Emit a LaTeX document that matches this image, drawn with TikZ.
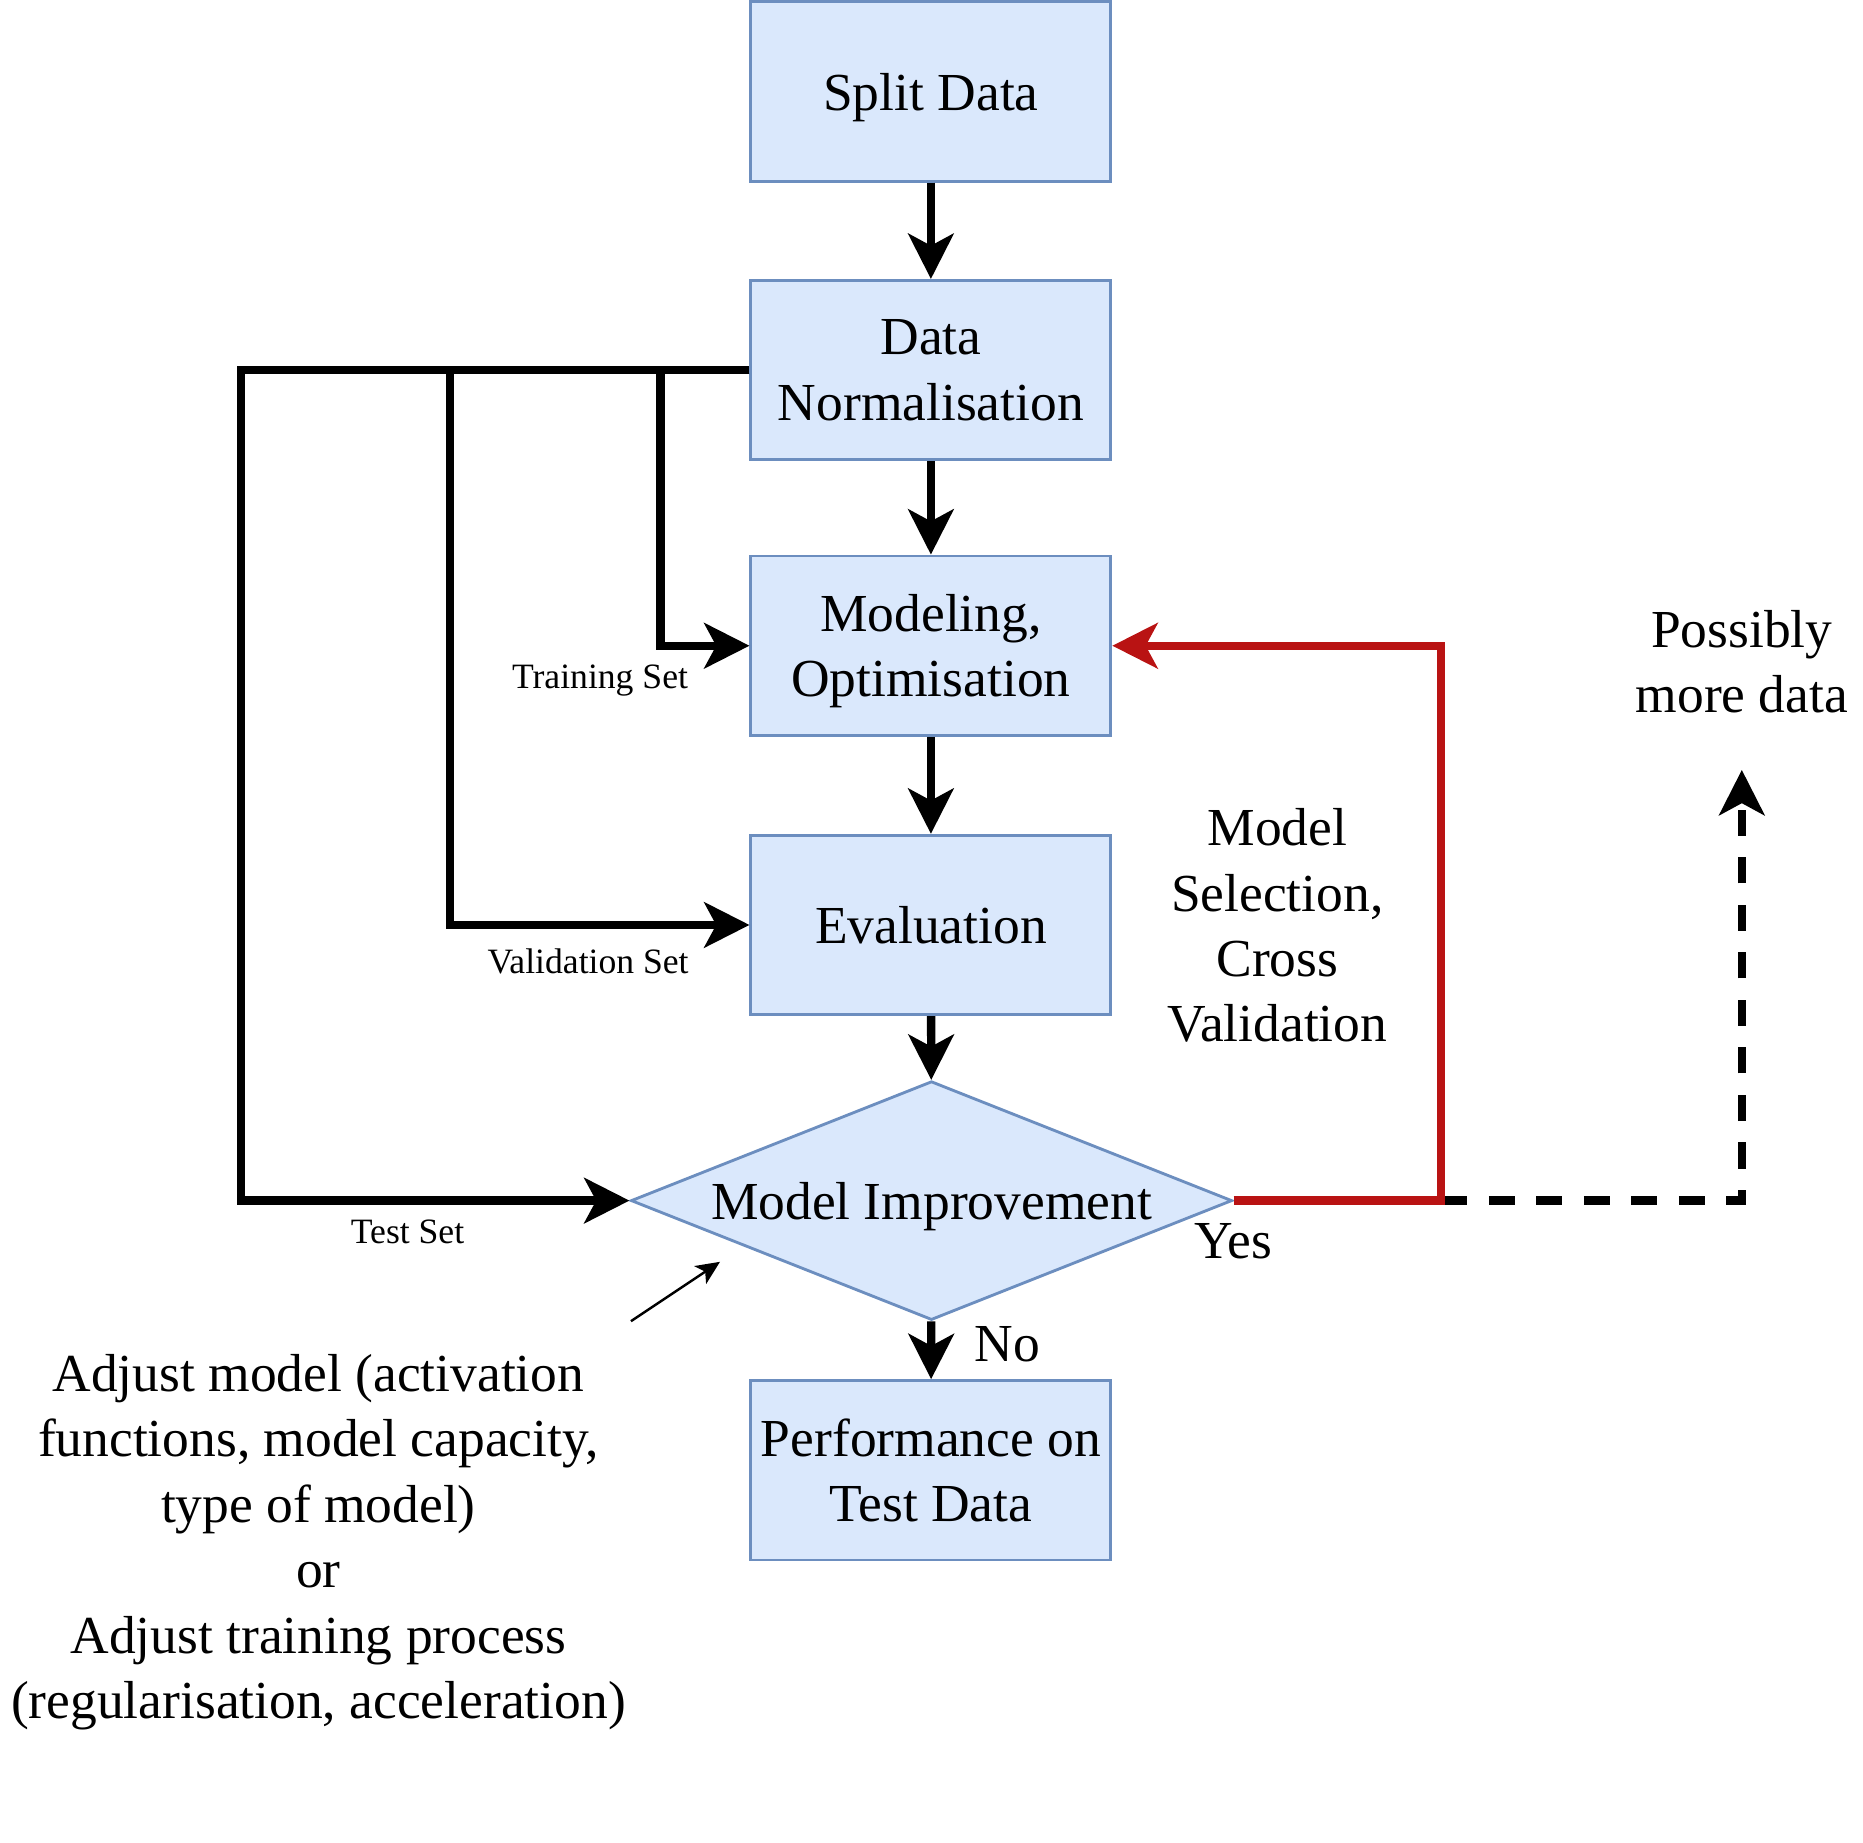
\documentclass[tikz,border=0pt]{standalone}
\usepackage{fontspec}
\setmainfont{Liberation Serif}
\usetikzlibrary{arrows.meta,shapes.geometric}
\definecolor{boxfill}{HTML}{DAE8FC}
\definecolor{boxline}{HTML}{6C8EBF}
\definecolor{loopred}{HTML}{B91313}
\newcommand\bigtext{\fontsize{22.5}{27.5}\selectfont}
\newcommand\smalltext{\fontsize{15}{18}\selectfont}

\begin{document}
\begin{tikzpicture}[x=0.5pt, y=-0.5pt,
        stage/.style={draw=boxline, fill=boxfill, line width=1.2pt, minimum width=151.5pt, minimum height=75.5pt, inner sep=0pt, text depth=0pt, align=center, font=\bigtext},
        decision/.style={diamond, aspect=2.52, draw=boxline, fill=boxfill, line width=1.2pt, minimum width=253pt, minimum height=100.5pt, inner sep=0pt, text depth=0pt, font=\bigtext},
        conn/.style={line width=3.5pt, -{Stealth[length=19pt, width=19pt, inset=5pt]}},
        redloop/.style={conn, draw=loopred, -{Stealth[length=19pt, width=19pt, inset=5pt, loopred]}},
        moredata/.style={conn, dash pattern=on 11pt off 9pt},
        pointer/.style={line width=1pt, -{Stealth[length=10pt, width=9pt, inset=2.5pt]}},
        note/.style={align=center, font=\bigtext, inner sep=0pt},
        setlabel/.style={font=\smalltext, inner sep=0pt}]
    \useasboundingbox (0,0) rectangle (1568,1550.5);

    % main column
    \node[stage] (split) at (783.5, 77)    {Split Data};
    \node[stage] (norm)  at (783.5, 311.5) {Data\\Normalisation};
    \node[stage] (model) at (783.5, 543.5) {Modeling,\\Optimisation};
    \node[stage] (eval)  at (783.5, 778.5) {Evaluation};
    \node[decision] (imp) at (784, 1010.5) {Model Improvement};
    \node[stage] (perf)  at (783.5, 1237.5) {Performance on\\Test Data};

    \draw[conn] (split) -- (norm);
    \draw[conn] (norm)  -- (model);
    \draw[conn] (model) -- (eval);
    \draw[conn] (eval)  -- (imp);
    \draw[conn] (imp)   -- (perf);

    % data sets
    \coordinate (ctrain) at (556, 543.5);
    \coordinate (cval)   at (379, 778.5);
    \coordinate (ctest)  at (203, 1010.5);
    \draw[conn] (norm.west) -| (ctrain) -- (model.west);
    \draw[conn] (norm.west) -| (cval)   -- (eval.west);
    \draw[conn] (norm.west) -| (ctest)  -- (imp.west);
    \node[setlabel] (ltrain) at (505, 573)  {Training Set};
    \node[setlabel] (lval)   at (495, 809)  {Validation Set};
    \node[setlabel] (ltest)  at (343, 1037) {Test Set};

    % loop back and more data
    \coordinate (cred)  at (1213, 1010.5);
    \coordinate (cmore) at (1466, 648);
    \draw[moredata] (cred) -| (cmore);
    \draw[redloop] (imp.east) -- (cred) |- (model.east);
    \node[note] (lsel)  at (1075, 779)  {Model\\Selection,\\Cross\\Validation};
    \node[note] (lmore) at (1466, 557)  {Possibly\\more data};
    \node[note] (lyes)  at (1038, 1045) {Yes};
    \node[note] (lno)   at (848, 1131)  {No};

    % adjustments
    \node[note] (ladjust) at (268, 1298) {Adjust model (activation\\functions, model capacity,\\type of model)\\or\\Adjust training process\\(regularisation, acceleration)};
    \coordinate (cadj)    at (531, 1112);
    \coordinate (cadjtip) at (606, 1062);
    \draw[pointer] (cadj) -- (cadjtip);
\end{tikzpicture}
\end{document}
